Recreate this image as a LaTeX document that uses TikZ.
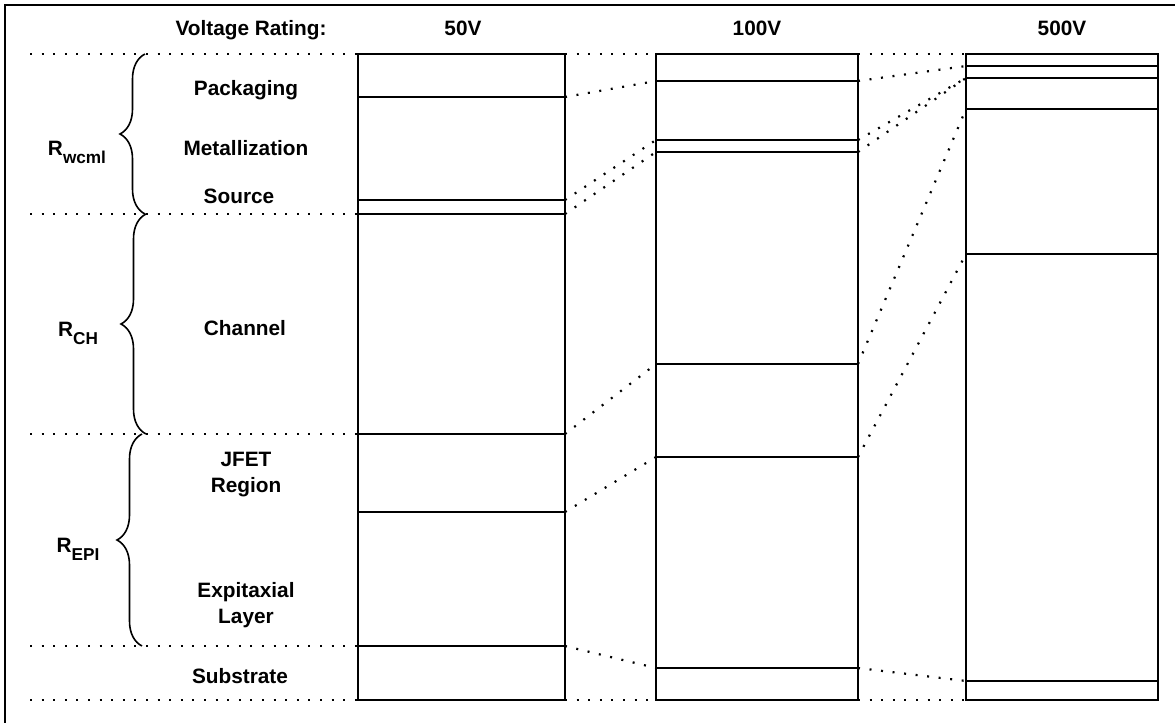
\documentclass[tikz,border=0pt]{standalone}
\usepackage{fontspec}
\setmainfont{Liberation Sans}
\usetikzlibrary{decorations.pathreplacing}
\tikzset{>=latex}
\tikzset{
  layerline/.style={line width=0.8pt},
  dotline/.style={line width=1.1pt, dash pattern=on 1pt off 4.8pt},
  lbl/.style={font=\bfseries\fontsize{10.4}{12}\selectfont, inner sep=0pt, anchor=base},
  rbrace/.style={decorate, decoration={brace, amplitude=12.5pt}, line width=0.8pt}
}
\newcommand{\rsub}[1]{R\raisebox{-4pt}{\fontsize{8.6}{9}\selectfont #1}}

\begin{document}
\begin{tikzpicture}[x=0.5pt,y=-0.5pt]
\useasboundingbox (0,0) rectangle (1175,723);
\draw[line width=1pt] (1175,5) -- (5,5) -- (5,723);

% layer boundaries, 50V
\coordinate (a0) at (358,54);  \coordinate (b0) at (565,54);
\coordinate (a1) at (358,97);  \coordinate (b1) at (565,97);
\coordinate (a2) at (358,200); \coordinate (b2) at (565,200);
\coordinate (a3) at (358,214); \coordinate (b3) at (565,214);
\coordinate (a4) at (358,434); \coordinate (b4) at (565,434);
\coordinate (a5) at (358,512); \coordinate (b5) at (565,512);
\coordinate (a6) at (358,646); \coordinate (b6) at (565,646);
\coordinate (a7) at (358,700); \coordinate (b7) at (565,700);
% 100V
\coordinate (c0) at (656,54);  \coordinate (d0) at (858,54);
\coordinate (c1) at (656,81);  \coordinate (d1) at (858,81);
\coordinate (c2) at (656,140); \coordinate (d2) at (858,140);
\coordinate (c3) at (656,152); \coordinate (d3) at (858,152);
\coordinate (c4) at (656,364); \coordinate (d4) at (858,364);
\coordinate (c5) at (656,457); \coordinate (d5) at (858,457);
\coordinate (c6) at (656,668); \coordinate (d6) at (858,668);
\coordinate (c7) at (656,700); \coordinate (d7) at (858,700);
% 500V
\coordinate (e0) at (966,54);  \coordinate (f0) at (1158,54);
\coordinate (e1) at (966,66);  \coordinate (f1) at (1158,66);
\coordinate (e2) at (966,78);  \coordinate (f2) at (1158,78);
\coordinate (e3) at (966,78);  \coordinate (f3) at (1158,78);
\coordinate (e4) at (966,109); \coordinate (f4) at (1158,109);
\coordinate (e5) at (966,254); \coordinate (f5) at (1158,254);
\coordinate (e6) at (966,681); \coordinate (f6) at (1158,681);
\coordinate (e7) at (966,700); \coordinate (f7) at (1158,700);
% left ends of the guides
\coordinate (s0) at (30,54);
\coordinate (s3) at (30,214);
\coordinate (s4) at (30,434);
\coordinate (s6) at (30,646);
\coordinate (s7) at (30,700);

\node[lbl] (vr) at (251,35) {Voltage Rating:};
\node[lbl] (v1) at (463,35) {50V};
\node[lbl] (v2) at (757,35) {100V};
\node[lbl] (v3) at (1062,35) {500V};

\node[lbl] (pk) at (246,95) {Packaging};
\node[lbl] (mt) at (246,155) {Metallization};
\node[lbl] (sr) at (239,203) {Source};
\node[lbl] (ch) at (245,335) {Channel};
\node[lbl] (jf1) at (246,466) {JFET};
\node[lbl] (jf2) at (246,492) {Region};
\node[lbl] (ep1) at (246,597) {Expitaxial};
\node[lbl] (ep2) at (246,623) {Layer};
\node[lbl] (sb) at (240,683) {Substrate};

\node[lbl] (rw) at (77,155) {\rsub{wcml}};
\node[lbl] (rc) at (78,336) {\rsub{CH}};
\node[lbl] (re) at (78,552) {\rsub{EPI}};

\draw[rbrace] (145,214) -- (145,54);
\draw[rbrace] (146,434) -- (146,214);
\draw[rbrace] (142,646) -- (142,434);

\draw[layerline] (a0) rectangle (b7);
\draw[layerline] (c0) rectangle (d7);
\draw[layerline] (e0) rectangle (f7);

\draw[layerline] (a1) -- (b1);
\draw[layerline] (a2) -- (b2);
\draw[layerline] (a3) -- (b3);
\draw[layerline] (a4) -- (b4);
\draw[layerline] (a5) -- (b5);
\draw[layerline] (a6) -- (b6);
\draw[layerline] (c1) -- (d1);
\draw[layerline] (c2) -- (d2);
\draw[layerline] (c3) -- (d3);
\draw[layerline] (c4) -- (d4);
\draw[layerline] (c5) -- (d5);
\draw[layerline] (c6) -- (d6);
\draw[layerline] (e1) -- (f1);
\draw[layerline] (e2) -- (f2);
\draw[layerline] (e4) -- (f4);
\draw[layerline] (e5) -- (f5);
\draw[layerline] (e6) -- (f6);

\draw[dotline] (s0) -- (a0);
\draw[dotline] (s3) -- (a3);
\draw[dotline] (s4) -- (a4);
\draw[dotline] (s6) -- (a6);
\draw[dotline] (s7) -- (a7);

\draw[dotline] (b0) -- (c0);
\draw[dotline] (b1) -- (c1);
\draw[dotline] (b2) -- (c2);
\draw[dotline] (b3) -- (c3);
\draw[dotline] (b4) -- (c4);
\draw[dotline] (b5) -- (c5);
\draw[dotline] (b6) -- (c6);
\draw[dotline] (b7) -- (c7);

\draw[dotline] (d0) -- (e0);
\draw[dotline] (d1) -- (e1);
\draw[dotline] (d2) -- (e2);
\draw[dotline] (d3) -- (e3);
\draw[dotline] (d4) -- (e4);
\draw[dotline] (d5) -- (e5);
\draw[dotline] (d6) -- (e6);
\draw[dotline] (d7) -- (e7);

\end{tikzpicture}
\end{document}
